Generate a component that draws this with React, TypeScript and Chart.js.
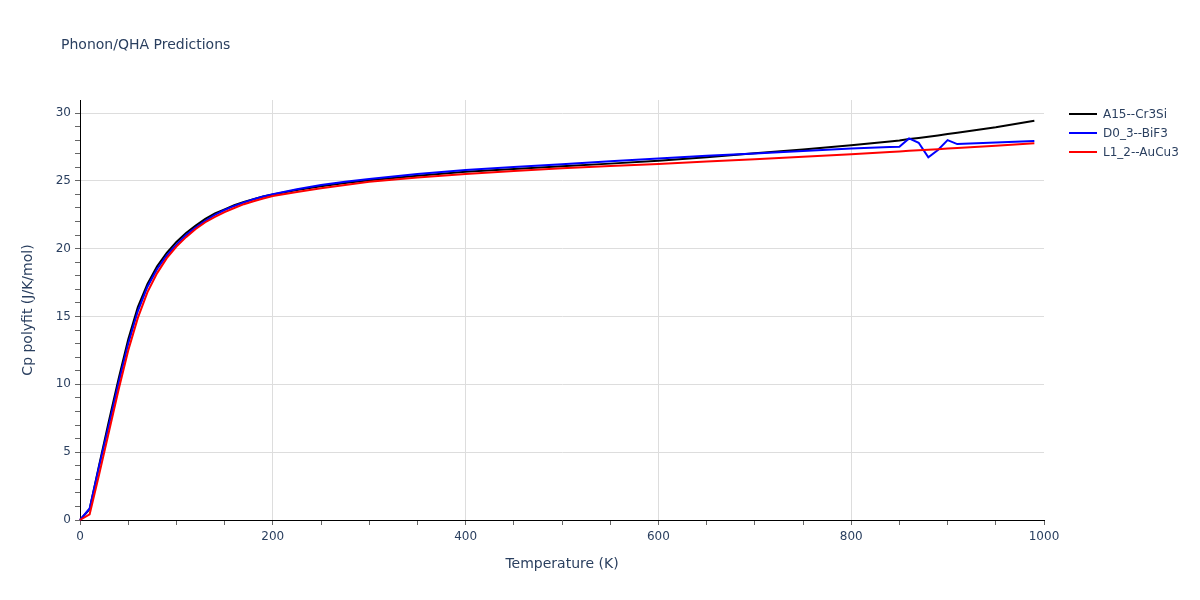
import React, { useEffect, useRef } from "react";
import { Chart, registerables } from "chart.js";

Chart.register(...registerables);

const temps = [
  0, 10, 20, 30, 40, 50, 60, 70, 80, 90, 100, 110, 120, 130, 140, 150, 160, 170, 180, 190, 200,
  225, 250, 275, 300, 350, 400, 450, 500, 550, 600, 650, 700, 750, 800,
  840, 850, 860, 870, 880, 890, 900, 910, 950, 990,
];

const cpA15 = [
  0, 0.8, 4.1, 7.3, 10.4, 13.3, 15.7, 17.4, 18.7, 19.7, 20.5, 21.15, 21.7, 22.2, 22.6, 22.9, 23.2, 23.45, 23.65, 23.85, 24.0,
  24.33, 24.6, 24.85, 25.05, 25.37, 25.67, 25.87, 26.07, 26.27, 26.48, 26.74, 27.03, 27.32, 27.62,
  27.9, 27.98, 28.08, 28.16, 28.25, 28.35, 28.45, 28.55, 28.95, 29.43,
];

const cpD03 = [
  0, 0.85, 4.0, 7.0, 10.1, 13.0, 15.4, 17.2, 18.5, 19.5, 20.3, 21.0, 21.55, 22.05, 22.5, 22.85, 23.15, 23.4, 23.65, 23.85, 24.02,
  24.38, 24.7, 24.93, 25.13, 25.5, 25.8, 26.02, 26.22, 26.45, 26.65, 26.85, 27.02, 27.2, 27.38,
  27.5, 27.52, 28.13, 27.81, 26.73, 27.27, 28.0, 27.71, 27.82, 27.93,
];

const cpL12 = [
  0, 0.42, 3.4, 6.5, 9.6, 12.5, 14.9, 16.8, 18.2, 19.3, 20.15, 20.85, 21.45, 21.95, 22.35, 22.7, 23.0, 23.28, 23.5, 23.7, 23.88,
  24.18, 24.45, 24.7, 24.93, 25.25, 25.5, 25.72, 25.92, 26.1, 26.25, 26.43, 26.6, 26.78, 26.97,
  27.13, 27.17, 27.21, 27.25, 27.29, 27.33, 27.38, 27.42, 27.58, 27.77,
];

const seriesNames = ["A15--Cr3Si", "D0_3--BiF3", "L1_2--AuCu3"];
const seriesColors = ["#000000", "#0000ff", "#ff0000"];
const seriesValues = [cpA15, cpD03, cpL12];

const xMinorStep = 50;
const xLabelEvery = 200;
const yMinorStep = 1;
const yLabelEvery = 5;
const xRange = [0, 1000];
const yRange = [0, 30.96];
const titleText = "Phonon/QHA Predictions";
const xTitle = "Temperature (K)";
const yTitle = "Cp polyfit (J/K/mol)";

const FONT = '"DejaVu Sans", Verdana, sans-serif';
const TEXT = "#2a3f5f";
const GRID = "#dddddd";
const TICK = "#666666";

const overlay = {
  id: "overlay",
  afterDraw(chart: any) {
    const ctx = chart.ctx;
    ctx.save();
    ctx.fillStyle = TEXT;
    ctx.textBaseline = "middle";
    ctx.textAlign = "left";
    ctx.font = `14px ${FONT}`;
    ctx.fillText(titleText, 61, 45);
    ctx.font = `12px ${FONT}`;
    seriesNames.forEach((n, i) => {
      const y = 114 + i * 19;
      ctx.strokeStyle = seriesColors[i];
      ctx.lineWidth = 2;
      ctx.beginPath();
      ctx.moveTo(1069, y);
      ctx.lineTo(1097, y);
      ctx.stroke();
      ctx.fillStyle = TEXT;
      ctx.fillText(n, 1103, y + 1);
    });
    ctx.restore();
  },
};

function buildTicks(min: number, max: number, step: number) {
  const out: { value: number }[] = [];
  for (let v = min; v <= max + 1e-9; v += step) out.push({ value: Math.round(v * 1000) / 1000 });
  return out;
}

export default function App() {
  const ref = useRef<HTMLCanvasElement | null>(null);

  useEffect(() => {
    document.body.style.margin = "0";
    const canvas = ref.current;
    if (!canvas) return;
    const chart = new Chart(canvas, {
      type: "line",
      data: {
        datasets: seriesValues.map((vals, i) => ({
          label: seriesNames[i],
          data: temps.map((t, j) => ({ x: t, y: vals[j] })),
          borderColor: seriesColors[i],
          backgroundColor: seriesColors[i],
          borderWidth: 2,
          pointRadius: 0,
          tension: 0,
          fill: false,
          order: 2 - i,
          clip: 4,
        })),
      },
      options: {
        animation: false,
        responsive: false,
        maintainAspectRatio: false,
        devicePixelRatio: 1,
        layout: { padding: { left: 0, top: 100, right: 156, bottom: 0 } },
        plugins: {
          legend: { display: false },
          title: { display: false },
          tooltip: { enabled: false },
        },
        scales: {
          x: {
            type: "linear",
            min: xRange[0],
            max: xRange[1],
            afterFit(scale: any) {
              scale.height = 80;
            },
            afterBuildTicks(scale: any) {
              scale.ticks = buildTicks(xRange[0], xRange[1], xMinorStep);
            },
            ticks: {
              autoSkip: false,
              maxRotation: 0,
              padding: 5,
              color: TEXT,
              font: { family: FONT, size: 12 },
              callback: (v: any) => (Number(v) % xLabelEvery === 0 ? String(v) : ""),
            },
            grid: {
              color: (c: any) =>
                c.tick && c.tick.value % xLabelEvery === 0 && c.tick.value > xRange[0] && c.tick.value < xRange[1]
                  ? GRID
                  : "rgba(0,0,0,0)",
              tickColor: TICK,
              tickLength: 5,
              drawTicks: true,
            },
            border: { display: true, color: "#000000", width: 1 },
            title: {
              display: true,
              text: xTitle,
              color: TEXT,
              font: { family: FONT, size: 14 },
              padding: { top: 0, bottom: 27 },
            },
          },
          y: {
            type: "linear",
            min: yRange[0],
            max: yRange[1],
            afterFit(scale: any) {
              scale.width = 80;
            },
            afterBuildTicks(scale: any) {
              scale.ticks = buildTicks(yRange[0], Math.floor(yRange[1]), yMinorStep);
            },
            ticks: {
              autoSkip: false,
              padding: 4,
              color: TEXT,
              font: { family: FONT, size: 12 },
              callback: (v: any) => (Number(v) % yLabelEvery === 0 ? String(v) : ""),
            },
            grid: {
              color: (c: any) =>
                c.tick && c.tick.value % yLabelEvery === 0 && c.tick.value > yRange[0] ? GRID : "rgba(0,0,0,0)",
              tickColor: TICK,
              tickLength: 5,
              drawTicks: true,
            },
            border: { display: true, color: "#000000", width: 1 },
            title: {
              display: true,
              text: yTitle,
              color: TEXT,
              font: { family: FONT, size: 14 },
              padding: { top: 20, bottom: 0 },
            },
          },
        },
      },
      plugins: [overlay],
    });
    return () => chart.destroy();
  }, []);

  return (
    <div style={{ width: 1200, height: 600 }}>
      <canvas ref={ref} width={1200} height={600} style={{ display: "block", width: 1200, height: 600 }} />
    </div>
  );
}
